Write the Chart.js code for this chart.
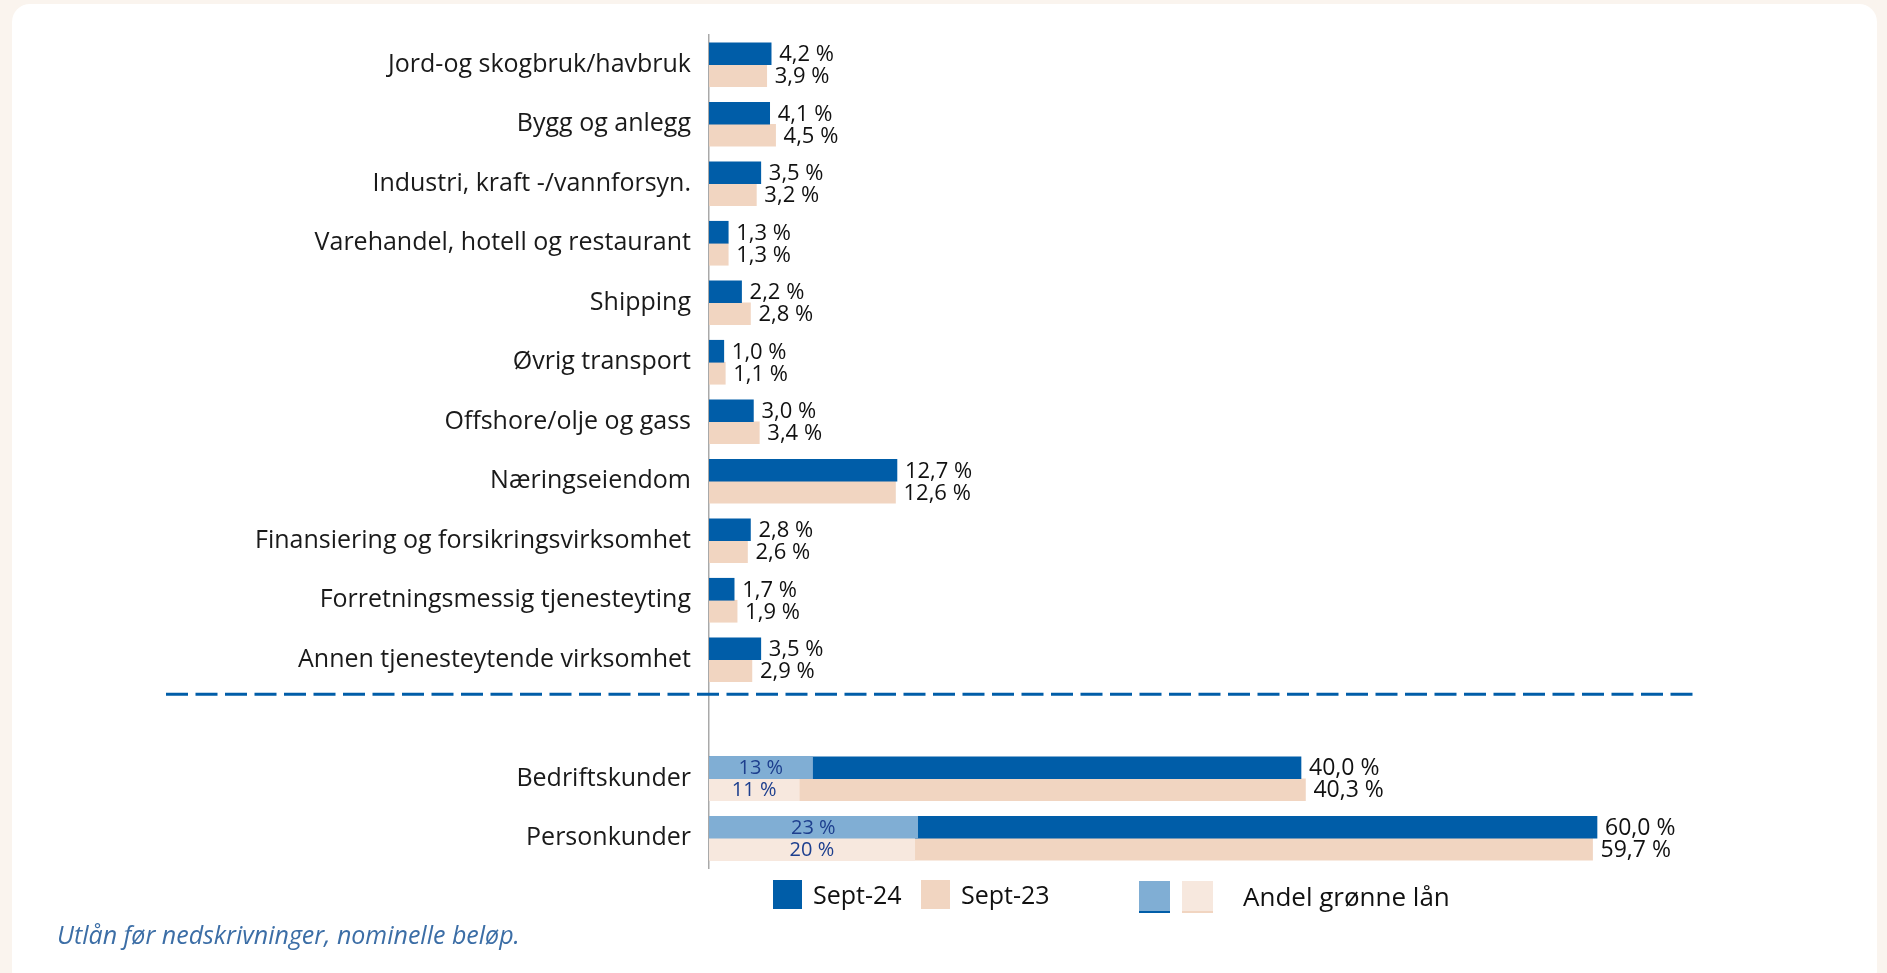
<!DOCTYPE html>
<html>
<head>
<meta charset="utf-8">
<script src="https://cdn.jsdelivr.net/npm/chart.js@4"></script>
<style>
  html, body { margin: 0; padding: 0; background: #faf4ee; width: 1887px; height: 973px; overflow: hidden; font-family: "Open Sans", sans-serif; }
  .card { position: absolute; left: 12px; top: 4px; width: 1865px; height: 985px; background: #fff; border-radius: 18px; }
  canvas { position: absolute; left: 0; top: 0; }
  .sq { position: absolute; box-sizing: border-box; }
  .lg { position: absolute; color: #111; font-size: 25px; line-height: 30px; }
  .note { position: absolute; left: 57px; top: 917px; font-size: 25px; font-style: italic; color: #3c6ea6; }
</style>
</head>
<body>
<div class="card"></div>
<canvas id="chart" width="1887" height="973"></canvas>

<div class="sq" style="left:773px;top:880px;width:29px;height:29px;background:#005da8"></div>
<div class="lg" style="left:813px;top:879px">Sept-24</div>
<div class="sq" style="left:921px;top:880px;width:29px;height:29px;background:#f1d5c1"></div>
<div class="lg" style="left:961px;top:879px">Sept-23</div>
<div class="sq" style="left:1139px;top:881px;width:31px;height:32px;background:#80aed4;border-bottom:2px solid #005da8"></div>
<div class="sq" style="left:1182px;top:881px;width:31px;height:32px;background:#f7e8de;border-bottom:2px solid #f1d5c1"></div>
<div class="lg" style="left:1243px;top:881px;font-size:26px">Andel grønne lån</div>

<div class="note">Utlån før nedskrivninger, nominelle beløp.</div>

<script>
const categories = [
  "Jord-og skogbruk/havbruk",
  "Bygg og anlegg",
  "Industri, kraft -/vannforsyn.",
  "Varehandel, hotell og restaurant",
  "Shipping",
  "Øvrig transport",
  "Offshore/olje og gass",
  "Næringseiendom",
  "Finansiering og forsikringsvirksomhet",
  "Forretningsmessig tjenesteyting",
  "Annen tjenesteytende virksomhet",
  "",
  "Bedriftskunder",
  "Personkunder"
];

const sept24 = [4.2, 4.1, 3.5, 1.3, 2.2, 1.0, 3.0, 12.7, 2.8, 1.7, 3.5, null, 40.0, 60.0];
const sept23 = [3.9, 4.5, 3.2, 1.3, 2.8, 1.1, 3.4, 12.6, 2.6, 1.9, 2.9, null, 40.3, 59.7];

const green24 = [null, null, null, null, null, null, null, null, null, null, null, null, 7.0, 14.1];
const green23 = [null, null, null, null, null, null, null, null, null, null, null, null, 6.1, 13.9];
const green24Share = [null, null, null, null, null, null, null, null, null, null, null, null, 13, 23];
const green23Share = [null, null, null, null, null, null, null, null, null, null, null, null, 11, 20];

const FONT = '"Open Sans", sans-serif';

function fmt(v) {
  return v.toFixed(1).replace(".", ",") + " %";
}

const labelPlugin = {
  id: "barLabels",
  afterDatasetsDraw(chart) {
    const ctx = chart.ctx;
    ctx.save();
    ctx.textBaseline = "middle";
    chart.data.datasets.forEach((ds, i) => {
      const meta = chart.getDatasetMeta(i);
      meta.data.forEach((bar, j) => {
        const v = ds.data[j];
        if (v === null) return;
        if (ds.share) {
          ctx.font = "20px " + FONT;
          ctx.fillStyle = "#1d3f8e";
          ctx.textAlign = "center";
          ctx.fillText(ds.share[j] + " %", (bar.base + bar.x) / 2, bar.y + 1);
        } else {
          ctx.font = (j > 11 ? "23px " : "22px ") + FONT;
          ctx.fillStyle = "#111";
          ctx.textAlign = "left";
          ctx.fillText(fmt(v), bar.x + 8, bar.y + 1);
        }
      });
    });
    ctx.restore();
  }
};

const dividerPlugin = {
  id: "divider",
  afterDatasetsDraw(chart) {
    const py = chart.scales.y.getPixelForValue(10.58);
    const ctx = chart.ctx;
    ctx.save();
    ctx.strokeStyle = "#005da8";
    ctx.lineWidth = 3;
    ctx.setLineDash([22, 7.5]);
    ctx.beginPath();
    ctx.moveTo(166, py);
    ctx.lineTo(1697, py);
    ctx.stroke();
    ctx.restore();
  }
};

new Chart(document.getElementById("chart"), {
  type: "bar",
  data: {
    labels: categories,
    datasets: [
      { label: "Andel grønne lån Sept-24", data: green24, share: green24Share, stack: "s24", backgroundColor: "#80aed4", order: 0 },
      { label: "Andel grønne lån Sept-23", data: green23, share: green23Share, stack: "s23", backgroundColor: "#f7e8de", order: 0 },
      { label: "Sept-24", data: sept24, stack: "s24", backgroundColor: "#005da8", order: 1 },
      { label: "Sept-23", data: sept23, stack: "s23", backgroundColor: "#f1d5c1", order: 1 }
    ]
  },
  options: {
    indexAxis: "y",
    responsive: false,
    animation: false,
    barThickness: 22,
    layout: { padding: { top: 35, bottom: 105, right: 142, left: 0 } },
    plugins: {
      legend: { display: false },
      tooltip: { enabled: false }
    },
    scales: {
      x: { min: 0, max: 70, stacked: false, display: false },
      y: {
        afterFit(scale) { scale.width = 709; },
        grid: { display: false, drawTicks: false },
        border: { display: true, color: "#a9a9a9", width: 1.5 },
        ticks: { autoSkip: false, padding: 18, color: "#1a1a1a", font: { family: FONT, size: 25 } }
      }
    }
  },
  plugins: [labelPlugin, dividerPlugin]
});
</script>
</body>
</html>
